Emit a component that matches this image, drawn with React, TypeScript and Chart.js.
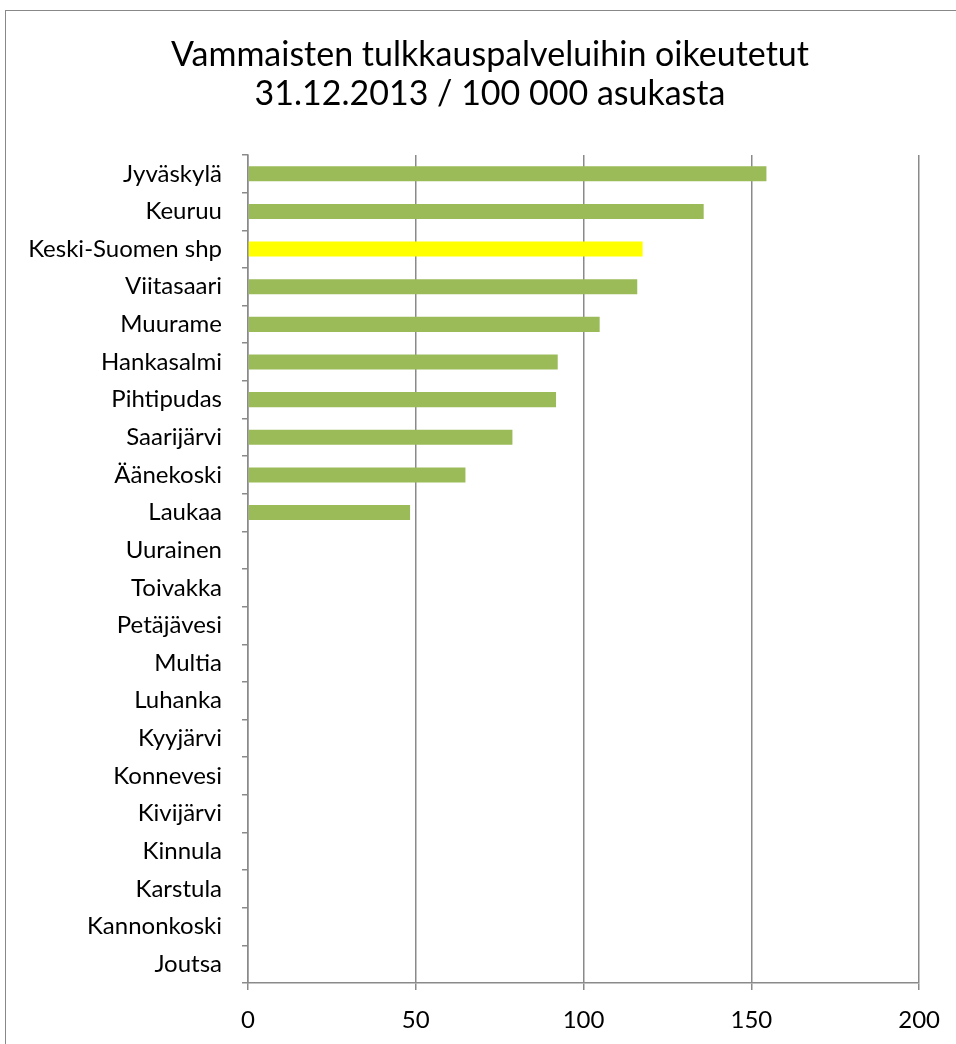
import React, { useEffect, useRef } from 'react';
import { Chart, registerables } from 'chart.js';

Chart.register(...registerables);

const titleLines = ['Vammaisten tulkkauspalveluihin oikeutetut', '31.12.2013 / 100 000 asukasta'];

const categories = [
  'Jyväskylä', 'Keuruu', 'Keski-Suomen shp', 'Viitasaari', 'Muurame', 'Hankasalmi',
  'Pihtipudas', 'Saarijärvi', 'Äänekoski', 'Laukaa', 'Uurainen', 'Toivakka',
  'Petäjävesi', 'Multia', 'Luhanka', 'Kyyjärvi', 'Konnevesi', 'Kivijärvi',
  'Kinnula', 'Karstula', 'Kannonkoski', 'Joutsa',
];

const values = [
  154.5, 135.8, 117.6, 116.0, 104.8, 92.3,
  91.8, 78.8, 64.8, 48.3, 0, 0,
  0, 0, 0, 0, 0, 0,
  0, 0, 0, 0,
];

const highlighted = ['Keski-Suomen shp'];

const xMin = 0;
const xMax = 200;
const xStep = 50;

const GREEN = '#9BBB59';
const YELLOW = '#FFFF00';
const AXIS = '#8a8a8a';
const FONT = 'Lato, "Open Sans", sans-serif';

const titlePlugin = {
  id: 'customTitle',
  afterDraw(chart: any) {
    const ctx = chart.ctx;
    ctx.save();
    ctx.fillStyle = '#000';
    ctx.font = `34px ${FONT}`;
    ctx.textAlign = 'center';
    ctx.textBaseline = 'alphabetic';
    ctx.fillText(titleLines[0], 490, 66);
    ctx.fillText(titleLines[1], 490, 105);
    ctx.restore();
  },
};

export default function App() {
  const ref = useRef<HTMLCanvasElement | null>(null);

  useEffect(() => {
    if (!ref.current) return;
    const chart = new Chart(ref.current, {
      type: 'bar',
      data: {
        labels: categories,
        datasets: [
          {
            data: values,
            backgroundColor: categories.map((c) => (highlighted.includes(c) ? YELLOW : GREEN)),
            borderWidth: 0,
            barPercentage: 0.8,
            categoryPercentage: 0.5,
          },
        ],
      },
      options: {
        indexAxis: 'y',
        animation: false,
        responsive: false,
        maintainAspectRatio: false,
        layout: { padding: { top: 155, right: 36, left: 0, bottom: 0 } },
        plugins: {
          legend: { display: false },
          title: { display: false },
          tooltip: { enabled: false },
        },
        scales: {
          x: {
            min: xMin,
            max: xMax,
            ticks: {
              stepSize: xStep,
              color: '#000',
              font: { family: FONT, size: 24 },
              padding: 16,
            },
            grid: {
              color: AXIS,
              lineWidth: 1.5,
              tickLength: 7,
              drawTicks: true,
            },
            border: { display: true, color: AXIS, width: 1.5 },
            afterFit(scale: any) {
              scale.height = 61;
            },
          },
          y: {
            offset: true,
            ticks: {
              color: '#000',
              font: { family: FONT, size: 24 },
              padding: 20,
              autoSkip: false,
            },
            grid: {
              offset: true,
              drawOnChartArea: false,
              drawTicks: true,
              tickLength: 6,
              color: AXIS,
              lineWidth: 1.5,
            },
            border: { display: true, color: AXIS, width: 1.5 },
            afterFit(scale: any) {
              scale.width = 248;
            },
          },
        },
      },
      plugins: [titlePlugin],
    });
    return () => chart.destroy();
  }, []);

  return (
    <div style={{ position: 'absolute', left: 0, top: 0, width: 956, height: 1044, overflow: 'hidden', background: '#fff' }}>
      <div
        style={{
          position: 'absolute',
          left: 5,
          top: 10,
          width: 1000,
          height: 1100,
          border: '1.5px solid #888',
          boxSizing: 'border-box',
        }}
      />
      <canvas ref={ref} width={956} height={1044} style={{ position: 'absolute', left: 0, top: 0, width: 956, height: 1044 }} />
    </div>
  );
}
